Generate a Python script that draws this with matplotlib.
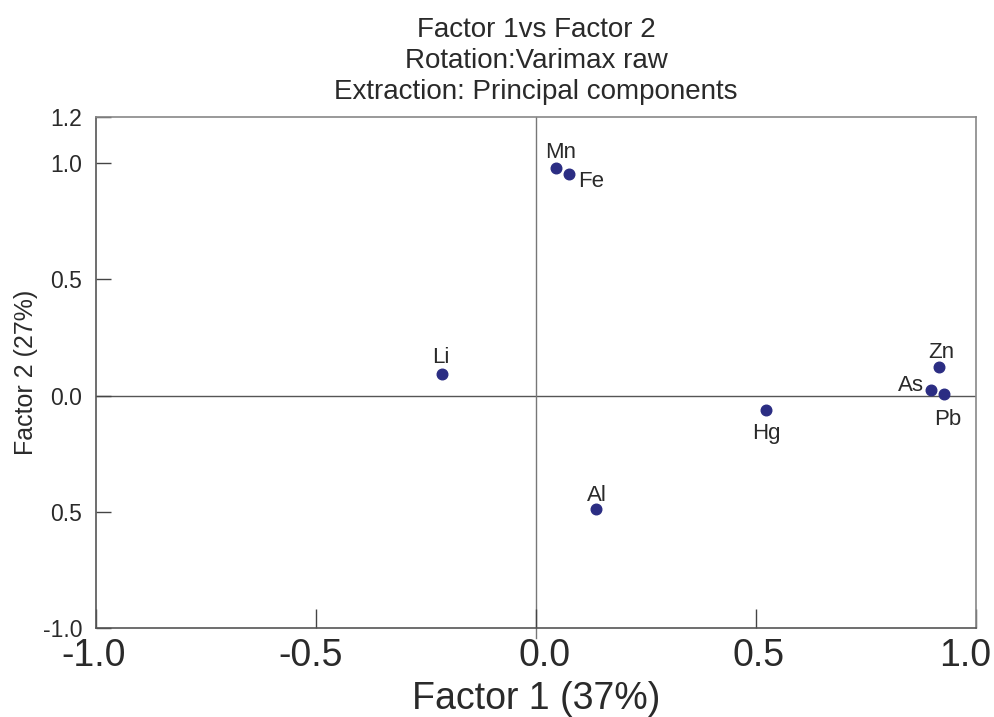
import numpy as np
import matplotlib
matplotlib.use('Agg')
import matplotlib.pyplot as plt
import matplotlib.transforms as mtrans

# loadings
elements = ['Mn', 'Fe', 'Li', 'Zn', 'As', 'Pb', 'Hg', 'Al']
factor1 = [0.046, 0.076, -0.213, 0.917, 0.898, 0.927, 0.523, 0.136]
factor2 = [0.979, 0.953, 0.094, 0.124, 0.024, 0.009, -0.061, -0.490]

xticks = [-1.0, -0.5, 0.0, 0.5, 1.0]
xticklabels = ['-1.0', '-0.5', '0.0', '0.5', '1.0']
yticks = [1.2, 1.0, 0.5, 0.0, -0.5, -1.0]
yticklabels = ['1.2', '1.0', '0.5', '0.0', '0.5', '-1.0']

# label placement (offset in points, alignment)
label_pos = {
    'Mn': ((3, 11), 'center'),
    'Fe': ((6, -5.5), 'left'),
    'Li': ((-1, 12), 'center'),
    'Zn': ((1, 10.5), 'center'),
    'As': ((-5, 3), 'right'),
    'Pb': ((3, -19), 'center'),
    'Hg': ((0, -17), 'center'),
    'Al': ((1, 10), 'center'),
}
# small horizontal nudges of the x tick labels (pixels), as in the original
xlab_shift = [-2, -5, 9, 3, -11]

plt.rcParams['font.family'] = ['Liberation Sans', 'DejaVu Sans']
txtcol = '#2a2a2a'
dotcol = '#2b2d83'

fig = plt.figure(figsize=(9.94, 7.17), dpi=100)
ax = fig.add_axes([0.0966, 0.1241, 0.8853, 0.7131])

ax.set_xlim(-1.0, 1.0)
ax.set_ylim(-1.0, 1.2)

# zero reference lines
ax.axhline(0, color='#555555', lw=1.0, zorder=1)
ax.plot([0, 0], [-1.045, 1.2], color='#777777', lw=1.0, zorder=1, clip_on=False)

ax.scatter(factor1, factor2, s=58, color=dotcol, zorder=3)

for name, x, y in zip(elements, factor1, factor2):
    off, ha = label_pos[name]
    ax.annotate(name, (x, y), xytext=off, textcoords='offset points',
                ha=ha, va='center', fontsize=16, color=txtcol)

ax.set_xticks(xticks)
ax.set_xticklabels(xticklabels)
ax.set_yticks(yticks)
ax.set_yticklabels(yticklabels)
ax.tick_params(axis='x', direction='in', length=14, width=1, color='#444444',
               labelsize=27, labelcolor=txtcol, pad=7)
ax.tick_params(axis='y', direction='in', length=11, width=1, color='#444444',
               labelsize=16.5, labelcolor=txtcol, pad=10)

for lab, dx in zip(ax.get_xticklabels(), xlab_shift):
    lab.set_transform(lab.get_transform() +
                      mtrans.ScaledTranslation(dx / 100, 0, fig.dpi_scale_trans))

for s in ['left', 'bottom']:
    ax.spines[s].set_color('#555555')
for s in ['top', 'right']:
    ax.spines[s].set_color('#888888')
for s in ax.spines.values():
    s.set_linewidth(1.2)

ax.set_xlabel('Factor 1 (37%)', fontsize=27, color=txtcol, labelpad=5)
ax.set_ylabel('Factor 2 (27%)', fontsize=18, color=txtcol, labelpad=3)
ax.set_title('Factor 1vs Factor 2\nRotation:Varimax raw\nExtraction: Principal components',
             fontsize=20, color=txtcol, linespacing=1.25, pad=13)

fig.savefig('out.png', dpi=100)
